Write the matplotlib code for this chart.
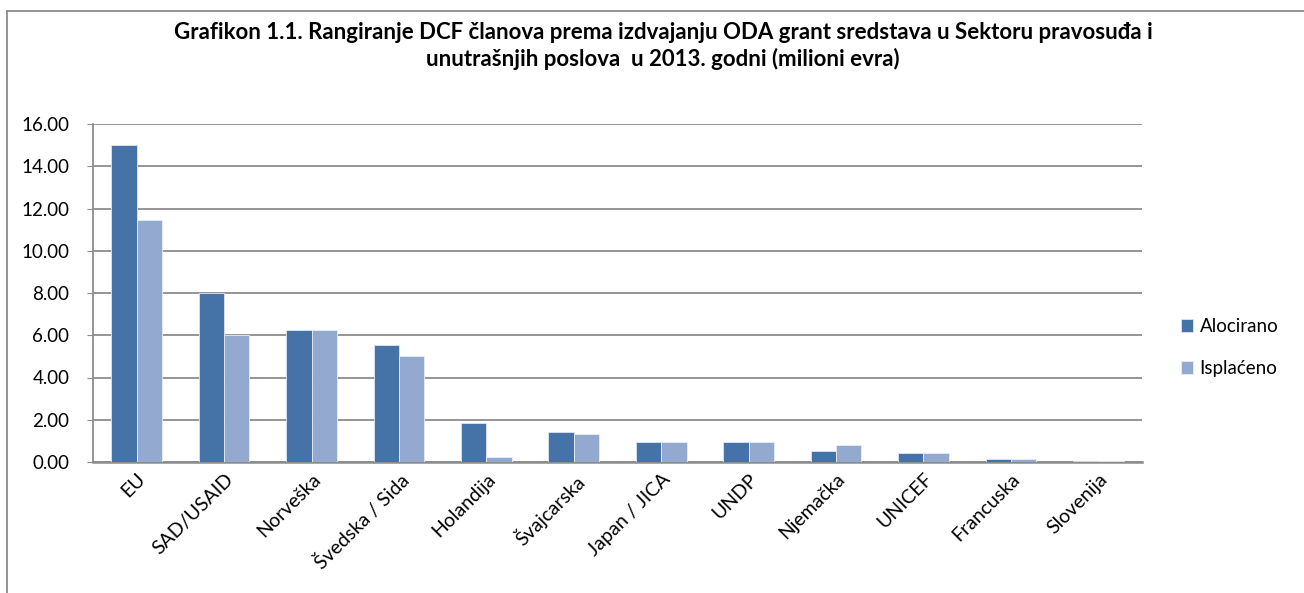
import matplotlib
matplotlib.use("Agg")
import matplotlib.pyplot as plt
import numpy as np
from matplotlib.lines import Line2D

categories = ["EU", "SAD/USAID", "Norveška", "Švedska / Sida", "Holandija", "Švajcarska",
              "Japan / JICA", "UNDP", "Njemačka", "UNICEF", "Francuska", "Slovenija"]
alocirano = [15.00, 8.00, 6.25, 5.55, 1.84, 1.43, 0.96, 0.96, 0.54, 0.44, 0.13, 0.07]
isplaceno = [11.45, 6.02, 6.25, 5.03, 0.22, 1.33, 0.96, 0.96, 0.80, 0.44, 0.13, 0.07]
yticks = [0, 2, 4, 6, 8, 10, 12, 14, 16]
title = ("Grafikon 1.1. Rangiranje DCF članova prema izdvajanju ODA grant sredstava u Sektoru pravosuđa i\n"
         "unutrašnjih poslova  u 2013. godni (milioni evra)")

plt.rcParams['font.family'] = ['Lato', 'DejaVu Sans']

W, H = 1304, 593
fig = plt.figure(figsize=(W / 100, H / 100), dpi=100)
ax = fig.add_axes([93 / W, 1 - 462 / H, (1142 - 93) / W, (462 - 124) / H])

x = np.arange(len(categories))
bw = 0.29
c1 = "#4572A7"
c2 = "#94A9D0"
ax.bar(x - bw / 2, alocirano, bw, color=c1, edgecolor="#dfe6f1", linewidth=0.6, label="Alocirano", zorder=3)
ax.bar(x + bw / 2, isplaceno, bw, color=c2, edgecolor="#e8edf6", linewidth=0.6, label="Isplaćeno", zorder=3)

ax.set_xlim(-0.5, len(categories) - 0.5)
ax.set_ylim(0, 16)
ax.set_yticks(yticks)
ax.set_yticklabels([f"{v:.2f}" for v in yticks], fontsize=13.5)
ax.yaxis.grid(True, color="#8c8c8c", linewidth=1.3, zorder=0)
ax.set_axisbelow(True)
for s in ["top", "right"]:
    ax.spines[s].set_visible(False)
ax.spines["left"].set_color("#8c8c8c")
ax.spines["left"].set_linewidth(1.3)
ax.spines["bottom"].set_color("#8c8c8c")
ax.spines["bottom"].set_linewidth(1.8)
ax.tick_params(axis="y", length=4, color="#8c8c8c", pad=13)
ax.tick_params(axis="x", length=0, pad=6)
ax.set_xticks(x)
ax.set_xticklabels(categories, rotation=45, ha="right", rotation_mode="anchor", fontsize=14)

fig.text(663 / W, 1 - 46 / H, title, ha="center", va="center", fontsize=16, fontweight="bold",
         linespacing=1.25)

leg = fig.legend(loc="upper left", bbox_to_anchor=(1164 / W, 1 - 301 / H), frameon=False,
                 fontsize=13.5, handlelength=0.65, handleheight=0.65, handletextpad=0.35,
                 labelspacing=1.35)

fig.add_artist(Line2D([7 / W, 7 / W], [0, 1 - 11 / H], color="#8c8c8c", linewidth=1.3,
                      transform=fig.transFigure))
fig.add_artist(Line2D([7 / W, 1], [1 - 11 / H, 1 - 11 / H], color="#8c8c8c", linewidth=1.3,
                      transform=fig.transFigure))

fig.savefig("out.png", dpi=100)
